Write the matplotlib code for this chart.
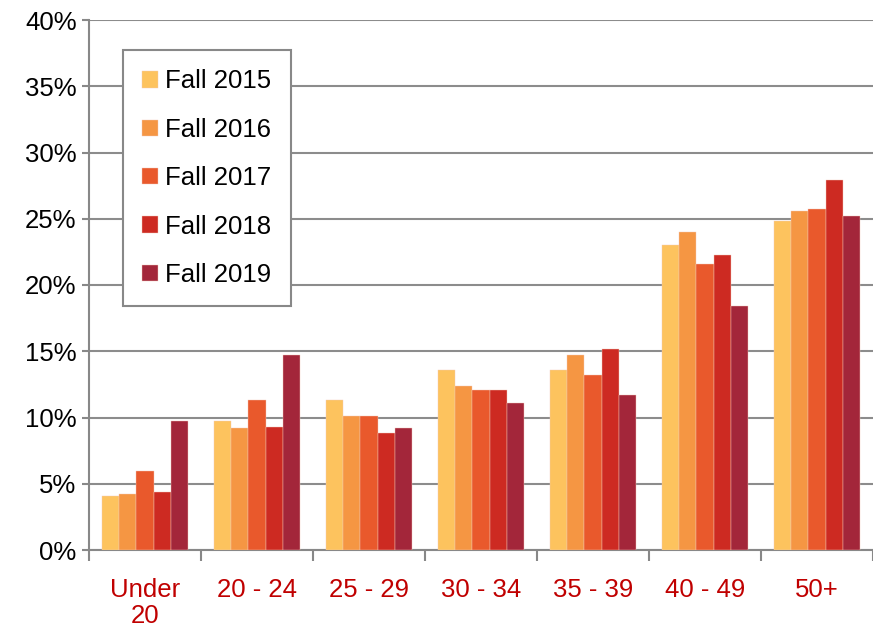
import numpy as np
import matplotlib.pyplot as plt
from matplotlib.ticker import FuncFormatter

categories = ['Under\n20', '20 - 24', '25 - 29', '30 - 34', '35 - 39', '40 - 49', '50+']
years = ['Fall 2015', 'Fall 2016', 'Fall 2017', 'Fall 2018', 'Fall 2019']
fall_2015 = [4.1, 9.7, 11.3, 13.6, 13.6, 23.0, 24.8]
fall_2016 = [4.2, 9.2, 10.1, 12.4, 14.7, 24.0, 25.6]
fall_2017 = [6.0, 11.3, 10.1, 12.1, 13.2, 21.6, 25.7]
fall_2018 = [4.4, 9.3, 8.8, 12.1, 15.2, 22.3, 27.9]
fall_2019 = [9.7, 14.7, 9.2, 11.1, 11.7, 18.4, 25.2]
series = [fall_2015, fall_2016, fall_2017, fall_2018, fall_2019]
colors = ['#FDC35E', '#F59643', '#E9592C', '#CD2A22', '#A3263A']

plt.rcParams['font.family'] = ['Liberation Sans', 'DejaVu Sans']

fig = plt.figure(figsize=(8.73, 6.26), dpi=100)
ax = fig.add_axes([89 / 873, 76 / 626, 784 / 873, 530 / 626])

x = np.arange(len(categories))
w = 0.154
for i, (vals, c, lab) in enumerate(zip(series, colors, years)):
    ax.bar(x + (i - 2) * w, vals, w, color=c, label=lab,
           edgecolor='#f2c9b8', linewidth=0.3, zorder=3)

ax.set_ylim(0, 40)
ax.set_yticks(range(0, 41, 5))
ax.yaxis.set_major_formatter(FuncFormatter(lambda v, p: f'{int(v)}%'))
ax.set_xlim(-0.5, 6.44)
ax.set_xticks(x)
ax.set_xticklabels(categories, color='#C00000', fontsize=18.5, linespacing=1.1)
ax.set_xticks(np.arange(-0.5, 7, 1), minor=True)
ax.tick_params(axis='x', which='major', length=0, pad=20)
ax.tick_params(axis='x', which='minor', length=8, width=1.5, color='#888888', direction='out')
ax.tick_params(axis='y', labelsize=18.5, length=5, width=1.5, color='#888888', pad=4)

ax.grid(axis='y', color='#8c8c8c', linewidth=1.5, zorder=0)
for s in ['top', 'right']:
    ax.spines[s].set_visible(False)
for s in ['left', 'bottom']:
    ax.spines[s].set_color('#888888')
    ax.spines[s].set_linewidth(1.5)

leg = ax.legend(loc='upper left', bbox_to_anchor=(0.0434, 0.943), borderaxespad=0,
                fontsize=18.5, handlelength=0.6, handleheight=0.6, handletextpad=0.3,
                labelspacing=0.95, borderpad=0.75, fancybox=False,
                edgecolor='#888888', framealpha=1)
leg.get_frame().set_linewidth(1.5)

fig.savefig('out.png', dpi=100)
